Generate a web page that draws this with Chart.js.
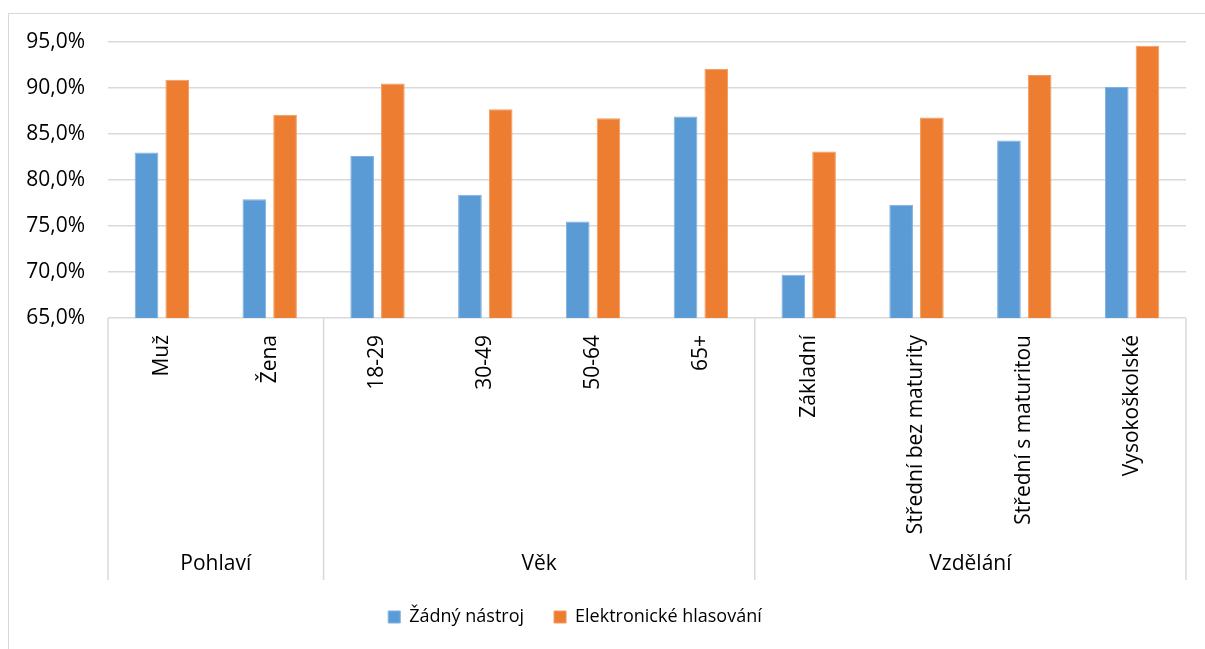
<!DOCTYPE html>
<html>
<head>
<meta charset="utf-8">
<script src="https://cdn.jsdelivr.net/npm/chart.js@4"></script>
<style>
    html, body { margin: 0; padding: 0; background: #fff; overflow: hidden; }
    #frame { position: absolute; left: 8px; top: 13px; width: 1400px; height: 800px; border: 1px solid #d9d9d9; }
    #wrap { position: absolute; left: 0; top: 0; width: 1205px; height: 649px; }
</style>
</head>
<body>
<div id="frame"></div>
<div id="wrap"><canvas id="chart"></canvas></div>
<script>
// Data
const categories = ['Muž', 'Žena', '18-29', '30-49', '50-64', '65+', 'Základní', 'Střední bez maturity', 'Střední s maturitou', 'Vysokoškolské'];
const groupNames = ['Pohlaví', 'Věk', 'Vzdělání'];
const groupSizes = [2, 4, 4];
const noTool = [83.0, 77.9, 82.6, 78.4, 75.5, 86.9, 69.7, 77.3, 84.3, 90.1];
const eVoting = [90.9, 87.1, 90.5, 87.7, 86.7, 92.1, 83.1, 86.8, 91.4, 94.6];
const seriesNames = ['Žádný nástroj', 'Elektronické hlasování'];

const FONT = "'Open Sans', sans-serif";

// Second level of the category axis (groups) + separators
const groupAxis = {
    id: 'groupAxis',
    afterDraw(chart) {
        const ctx = chart.ctx;
        const area = chart.chartArea;
        const step = area.width / categories.length;
        const top = area.bottom;
        const bottom = area.bottom + 262;
        ctx.save();
        ctx.strokeStyle = '#d9d9d9';
        ctx.lineWidth = 1.5;
        let start = 0;
        const edges = [0];
        groupSizes.forEach(n => { start += n; edges.push(start); });
        edges.forEach(i => {
            const x = area.left + i * step;
            ctx.beginPath();
            ctx.moveTo(x, top);
            ctx.lineTo(x, bottom);
            ctx.stroke();
        });
        ctx.fillStyle = '#000';
        ctx.font = '21px ' + FONT;
        ctx.textAlign = 'center';
        ctx.textBaseline = 'middle';
        groupNames.forEach((name, g) => {
            const x = area.left + (edges[g] + edges[g + 1]) / 2 * step;
            ctx.fillText(name, x, area.bottom + 246);
        });
        ctx.restore();
    }
};

// nudge the legend a bit to the left, as in the original
const legendShift = {
    id: 'legendShift',
    afterLayout(chart) {
        if (chart.legend) {
            chart.legend.left -= 18;
            chart.legend.right -= 18;
        }
    }
};

const ctx = document.getElementById('chart').getContext('2d');
const chart = new Chart(ctx, {
    type: 'bar',
    data: {
        labels: categories,
        datasets: [
            {
                label: seriesNames[0],
                data: noTool,
                backgroundColor: '#5B9BD5',
                borderColor: '#7fb0de',
                borderWidth: 1,
                categoryPercentage: 0.57,
                barPercentage: 0.77
            },
            {
                label: seriesNames[1],
                data: eVoting,
                backgroundColor: '#ED7D31',
                borderColor: '#f29a5e',
                borderWidth: 1,
                categoryPercentage: 0.57,
                barPercentage: 0.77
            }
        ]
    },
    options: {
        responsive: true,
        maintainAspectRatio: false,
        animation: false,
        layout: {
            padding: { left: 0, right: 19, top: 42, bottom: 13 }
        },
        scales: {
            x: {
                grid: { display: false },
                border: { display: false },
                ticks: {
                    autoSkip: false,
                    maxRotation: 90,
                    minRotation: 90,
                    padding: 9,
                    color: '#000',
                    font: { family: FONT, size: 21 }
                },
                afterFit(scale) { scale.height = 260; }
            },
            y: {
                min: 65,
                max: 95,
                border: { display: false },
                grid: { color: '#d9d9d9', lineWidth: 1.5, drawTicks: false },
                ticks: {
                    stepSize: 5,
                    padding: 23,
                    color: '#000',
                    font: { family: FONT, size: 21 },
                    callback: v => v.toFixed(1).replace('.', ',') + '%'
                },
                afterFit(scale) { scale.width = 108; }
            }
        },
        plugins: {
            legend: {
                position: 'bottom',
                labels: {
                    boxWidth: 12,
                    boxHeight: 12,
                    padding: 30,
                    color: '#000',
                    font: { family: FONT, size: 18 }
                }
            },
            tooltip: { enabled: false }
        }
    },
    plugins: [groupAxis, legendShift]
});
</script>
</body>
</html>
